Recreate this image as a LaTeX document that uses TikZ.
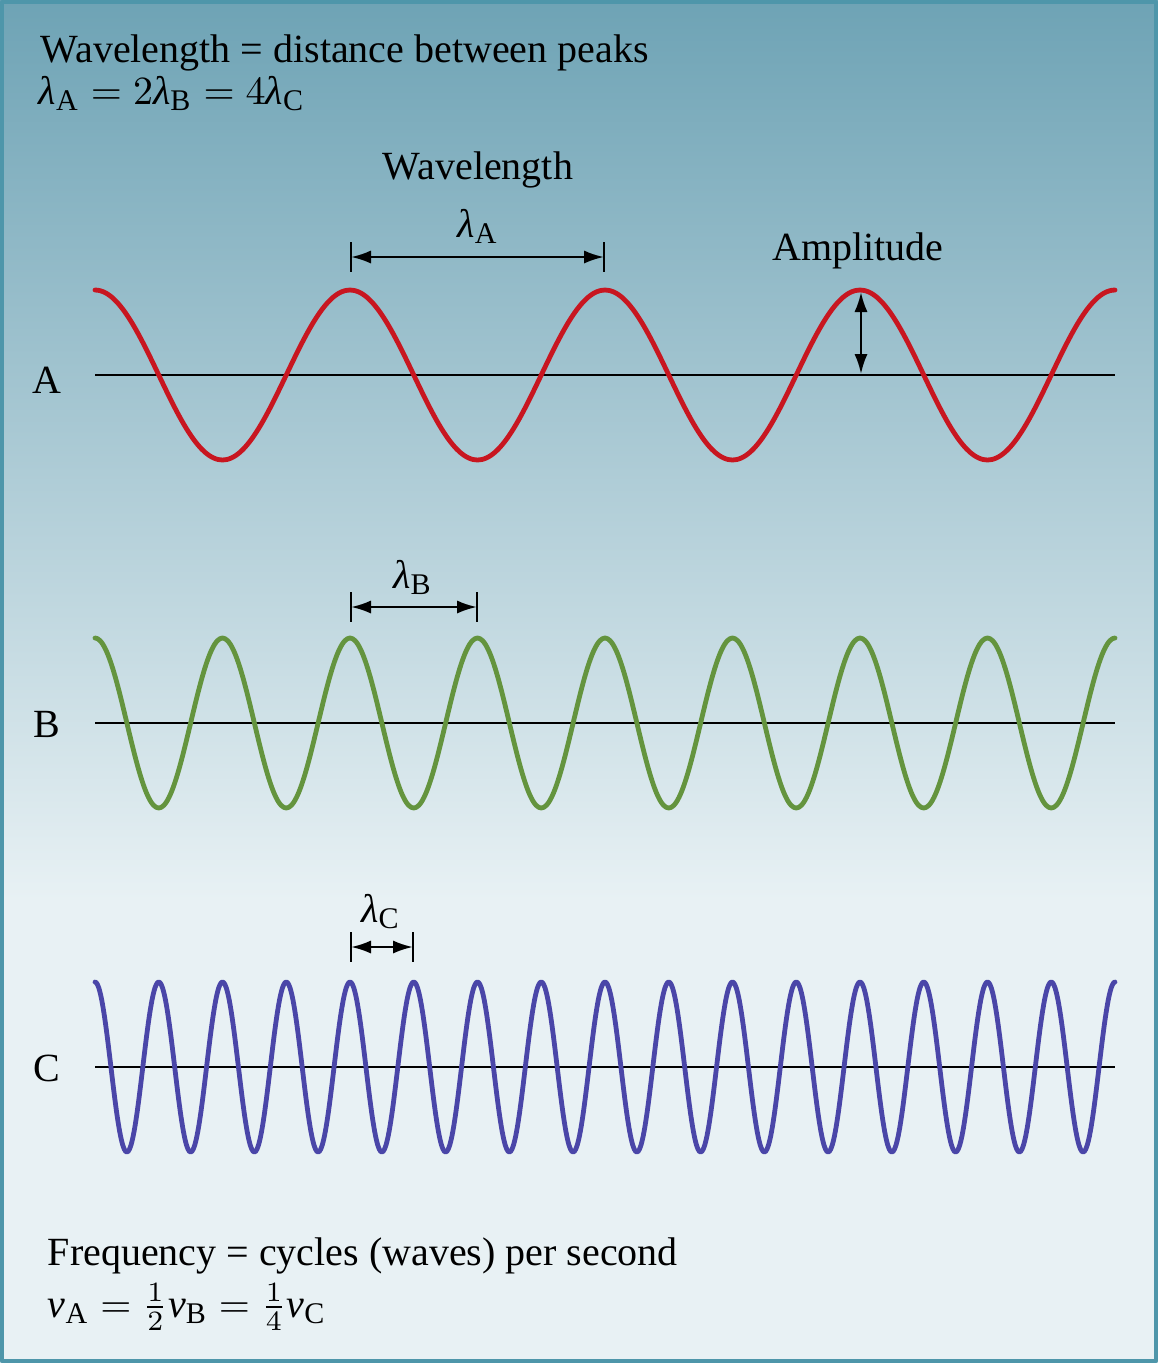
\documentclass[tikz,border=0pt]{standalone}
\usepackage{amsmath}
\usepackage{fontspec}
\setmainfont{Liberation Serif}
\usetikzlibrary{arrows.meta}
\DeclareMathSizes{10}{10}{7.5}{5}

\definecolor{bgtop}{RGB}{110,163,181}
\definecolor{bgmid}{RGB}{196,220,228}
\definecolor{bglow}{RGB}{232,241,244}
\definecolor{frame}{RGB}{78,150,170}
\definecolor{wavered}{RGB}{200,22,32}
\definecolor{wavegreen}{RGB}{100,148,62}
\definecolor{waveblue}{RGB}{74,70,168}

\begin{document}
\begin{tikzpicture}[
				x=0.25pt, y=-0.25pt,
				line cap=round,
				line join=round,
				every node/.style={font=\fontsize{10}{12}\selectfont, inner sep=0pt},
				axis/.style={line width=0.55pt, line cap=butt},
				wave/.style={line width=1.2pt},
				dim/.style={line width=0.62pt, {Latex[length=5pt,width=3.3pt]}-{Latex[length=5pt,width=3.3pt]}},
				tick/.style={line width=0.62pt, line cap=butt}
				]
				% Background and frame
				\useasboundingbox (0,0) rectangle (1158,1363);
				\shade[top color=bgtop, middle color=bgmid, bottom color=bglow] (0,0) rectangle (1158,900);
				\fill[bglow] (0,899) rectangle (1158,1363);
				\draw[frame, line width=0.9pt, line cap=butt] (1.75,1.75) rectangle (1156.25,1361.25);
				
				% Heading
				\node[anchor=base west] (title) at (40,62) {Wavelength = distance between peaks};
				\node[anchor=base west] (ratio) at (38,104) {$\text{\itshape λ}_\text{A} = 2\text{\itshape λ}_\text{B} = 4\text{\itshape λ}_\text{C}$};
				
				% Wave A
				\draw[axis] (95,375) -- (1115,375);
				\draw[wave, wavered] plot[domain=95:1115, samples=241, smooth] (\x, {375-85*cos((\x-95)/255*360)});
				\node[anchor=base] (labA) at (47,393) {A};
				\node[anchor=base] (wl) at (478,179) {Wavelength};
				\node[anchor=base] (lamA) at (478,237) {$\text{\itshape λ}_\text{A}$};
				\node[anchor=base] (amp) at (858,260) {Amplitude};
				\coordinate (a1) at (351,257);
				\coordinate (a2) at (604,257);
				\draw[dim] (a1) -- (a2);
				\draw[tick] ([yshift=3.75pt]a1) -- ([yshift=-3.75pt]a1);
				\draw[tick] ([yshift=3.75pt]a2) -- ([yshift=-3.75pt]a2);
				\coordinate (ampTop) at (861,292);
				\coordinate (ampBot) at (861,374);
				\draw[dim] (ampTop) -- (ampBot);
				
				% Wave B
				\draw[axis] (95,723) -- (1115,723);
				\draw[wave, wavegreen] plot[domain=95:1115, samples=401, smooth] (\x, {723-85*cos((\x-95)/127.5*360)});
				\node[anchor=base] (labB) at (47,737) {B};
				\node[anchor=base] (lamB) at (413,588) {$\text{\itshape λ}_\text{B}$};
				\coordinate (b1) at (351,607);
				\coordinate (b2) at (477,607);
				\draw[dim] (b1) -- (b2);
				\draw[tick] ([yshift=3.75pt]b1) -- ([yshift=-3.75pt]b1);
				\draw[tick] ([yshift=3.75pt]b2) -- ([yshift=-3.75pt]b2);
				
				% Wave C
				\draw[axis] (95,1067) -- (1115,1067);
				\draw[wave, waveblue] plot[domain=95:1115, samples=801, smooth] (\x, {1067-85*cos((\x-95)/63.75*360)});
				\node[anchor=base] (labC) at (47,1081) {C};
				\node[anchor=base] (lamC) at (381,922) {$\text{\itshape λ}_\text{C}$};
				\coordinate (c1) at (351,947);
				\coordinate (c2) at (413,947);
				\draw[dim] (c1) -- (c2);
				\draw[tick] ([yshift=3.75pt]c1) -- ([yshift=-3.75pt]c1);
				\draw[tick] ([yshift=3.75pt]c2) -- ([yshift=-3.75pt]c2);
				
				% Frequency
				\node[anchor=base west] (freq) at (47,1265) {Frequency = cycles (waves) per second};
				\node[anchor=base west] (nu) at (47,1317) {$\text{\itshape ν}_\text{A} = \frac{1}{2}\text{\itshape ν}_\text{B} = \frac{1}{4}\text{\itshape ν}_\text{C}$};
			\end{tikzpicture}
\end{document}
